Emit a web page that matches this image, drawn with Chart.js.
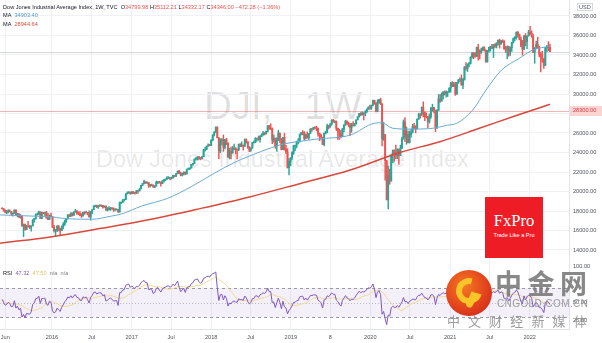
<!DOCTYPE html>
<html><head><meta charset="utf-8">
<script src="https://cdn.jsdelivr.net/npm/chart.js@4.4.1/dist/chart.umd.min.js"></script>
<style>
html,body{margin:0;padding:0;background:#fff;}
#wrap{position:relative;width:602px;height:343px;overflow:hidden;font-family:"Liberation Sans",Arial,sans-serif;}
.abs{position:absolute;white-space:nowrap;}
#cvP{position:absolute;left:0;top:0;z-index:1;}
#cvR{position:absolute;left:0;top:264px;z-index:1;}
.wm{z-index:0;color:rgba(0,0,0,0.12);line-height:1;}
.lg{z-index:2;font-size:5.6px;line-height:8.4px;color:#131722;}
.dn{color:#ef5350;}
#fx{z-index:3;left:485px;top:197px;width:58px;height:61px;background:#ee1c25;color:#fff;text-align:center;}
</style></head><body>
<div id="wrap">
  <div class="abs wm" style="left:204px;top:87px;font-size:38.5px;word-spacing:21px;">DJI, 1W</div>
  <div class="abs wm" style="left:96px;top:148px;font-size:23.4px;color:rgba(0,0,0,0.10);">Dow Jones Industrial Average Index</div>
  <canvas id="cvP" width="602" height="264"></canvas>
  <canvas id="cvR" width="602" height="79"></canvas>

  <div class="abs lg" style="left:3px;top:2.5px;">Dow Jones Industrial Average Index, 1W, TVC&nbsp;&nbsp;O<span class="dn">34799.98</span> H<span class="dn">35112.21</span> L<span class="dn">34332.17</span> C<span class="dn">34346.00</span> <span class="dn">−472.28 (−1.36%)</span></div>
  <div class="abs lg" style="left:3px;top:11px;">MA&nbsp;&nbsp;<span style="color:#4f9bd0">34903.40</span></div>
  <div class="abs lg" style="left:3px;top:19.5px;">MA&nbsp;&nbsp;<span style="color:#e04b3c">28944.64</span></div>
  <div class="abs lg" style="left:3px;top:268.5px;">RSI&nbsp;&nbsp;<span style="color:#7e57c2">47.32</span>&nbsp;&nbsp;<span style="color:#e0c060">47.50</span>&nbsp;&nbsp;<span style="color:#787b86">n/a</span>&nbsp;&nbsp;<span style="color:#787b86">n/a</span></div>
  <div class="abs lg" style="left:577px;top:2.5px;padding:0 1px;border:0.5px solid #d6d8de;color:#50535e;line-height:6.5px;">USD</div>

  <div class="abs" id="fx">
    <div style="font-family:'Liberation Serif','DejaVu Serif',serif;font-size:16.5px;line-height:16px;margin-top:16px;">FxPro</div>
    <div style="font-size:5.6px;line-height:6px;margin-top:3px;">Trade Like a Pro</div>
  </div>

  <div class="abs" style="left:446px;top:270px;width:46px;height:46px;border-radius:50%;background:radial-gradient(circle at 40% 35%,#f47a22 0%,#e2421c 55%,#c9201a 100%);z-index:3;">
    <div style="position:absolute;left:10px;top:8px;width:14px;height:14px;border-radius:50%;border:6px solid #f8c42a;border-right-color:transparent;transform:rotate(-30deg);"></div>
    <div style="position:absolute;left:22px;top:22px;width:7px;height:16px;border-radius:0 0 8px 8px;background:#f8c42a;transform:rotate(25deg);"></div>
  </div>
  <div class="abs" style="z-index:3;left:495px;top:268px;font-family:'Noto Sans CJK SC',sans-serif;font-weight:bold;font-size:27px;line-height:30px;letter-spacing:5.5px;color:rgba(115,115,115,0.85);">中金网</div>
  <div class="abs" style="z-index:3;left:497px;top:298.5px;font-family:'Liberation Sans',Arial,sans-serif;font-size:10px;line-height:10px;letter-spacing:0.4px;color:rgba(140,140,140,0.85);">CNGOLD.COM.CN</div>
  <div class="abs" style="z-index:3;left:447px;top:313px;font-family:'Noto Sans CJK SC',sans-serif;font-size:13px;line-height:15px;letter-spacing:2.6px;color:rgba(140,140,140,0.85);">中 文 财 经 新 媒 体</div>
</div>

<script>
// ---------------- DATA ----------------
// weekly closes of the 14 weeks before the first visible bar (RSI warm-up)
const warmupCloses = [18019,18140,18133,17856,17749,18128,17713,17763,18058,17826,18080,18024,18191,18272];
const firstWeek = '2015-05-18';   // Monday of the first visible weekly bar
const lastOpen = 34799.98;

const closes = [
// 2015
18232,18011,17849,17899,18016,17947,17730,17760,18086,17569,17690,17373,17477,16460,16643,16102,16433,16385,16315,16472,17084,17216,17647,17664,17910,17245,17824,17798,17848,17265,17128,17553,17425,
// 2016
16346,15988,16094,16466,16205,15974,16392,16640,17007,17213,17602,17516,17793,17577,17898,18004,17774,17741,17535,17501,17873,17807,17865,17675,17400,17949,18147,18516,18571,18432,18543,18577,18553,18395,18492,18085,18124,18262,18308,18240,18138,18146,18161,17888,18848,18868,19152,19171,19757,19843,19934,19763,
// 2017
19964,19886,19827,20094,20071,20269,20624,20822,21006,20903,20915,20597,20663,20656,20453,20548,20941,21007,20897,20805,21080,21206,21272,21384,21395,21350,21414,21638,21580,21830,22093,21858,21675,21814,21988,21798,22268,22350,22405,22774,22872,23329,23434,23539,23422,23358,23558,24232,24329,24652,24754,24719,
// 2018
25296,25803,26072,26617,25521,24191,25219,25310,24538,25336,24946,23533,24103,23933,24360,24463,24311,24263,24831,24715,24753,24635,25317,25090,24581,24271,24456,25019,25058,25451,25463,25313,25669,25790,25965,25917,26155,26744,26458,26447,25340,25444,24688,25271,25989,25413,24286,25538,24389,24101,22445,23062,
// 2019
23433,23996,24706,24737,25064,25106,25883,26031,26026,25450,25849,25502,25929,26425,26412,26559,26543,26505,25942,25764,25586,24815,25984,26090,26719,26600,26922,27332,27154,27192,26485,26287,25886,25629,26403,26797,27220,26935,26820,26573,26817,26770,26958,27347,27681,28005,27876,28051,28015,28135,28455,28645,
// 2020
28635,28824,29348,28990,28256,29103,29398,28992,25409,25864,23186,19174,21637,21053,23719,24242,23775,23724,24331,23685,24465,25383,27111,25606,25871,25016,25827,26075,26672,26470,26428,27433,27931,27930,28654,28133,27666,27657,27174,27683,28587,28606,28336,26502,28323,29480,29263,29910,30218,30046,30179,30200,30606,
// 2021
31098,30814,30997,29983,31148,31458,31494,30932,31496,32779,32628,33073,33153,33801,34200,34043,33875,34778,34382,34208,34529,34756,34480,33290,34434,34786,34870,34688,35062,34935,35209,35515,35120,35456,35369,34608,34584,34798,34326,34746,35295,35677,35820,36328,36100,35602,34899,34580,35971,35365,35951,36338,
// 2022
36232,35912,34265,34725,35089,34738,34079,34059,33615,32944,34755,34862,34818,34346];

const highs = [
18351,18233,18110,18077,18137,18130,17950,17800,18130,18140,17780,17730,17640,17510,16670,16650,16530,16930,16530,16480,17100,17230,17680,17800,17980,17920,17880,17860,17900,17960,17760,17600,17780,
17410,16530,16100,16480,16510,16230,16470,16800,17060,17230,17630,17630,17800,17800,17940,18170,18040,17920,17930,17720,17890,17930,18000,17870,18010,17950,18150,18540,18620,18600,18550,18670,18630,18580,18540,18540,18360,18450,18370,18340,18330,18260,18240,18170,18930,18930,19160,19230,19760,19970,19990,19950,
20000,19990,19900,20130,20100,20300,20640,20830,21170,21010,20990,20940,20740,20760,20680,20600,21070,21010,21050,21000,21110,21220,21300,21530,21530,21460,21480,21680,21650,21840,22100,22180,22000,21890,22020,22000,22290,22420,22420,22780,22900,23330,23490,23560,23600,23480,23600,24330,24540,24670,24880,24840,
25300,25810,26150,26620,26610,25520,25430,25440,25800,25340,25450,25010,24430,24560,24620,24860,24470,24370,24880,24920,25090,24770,25400,25400,25090,24580,24480,25050,25190,25530,25490,25690,25730,25920,26170,26050,26190,26770,26770,26950,26520,25800,25490,25540,26280,26000,25410,25540,25980,24740,24390,23380,
23470,24060,24750,24770,25170,25440,25890,26050,26240,26150,25900,26110,25950,26430,26480,26580,26660,26700,26400,26000,25890,25550,26000,26190,26910,26800,26970,27340,27400,27270,27240,26490,26390,26250,26480,26860,27310,27220,27120,27000,27000,27170,27000,27350,27690,28010,28090,28170,28070,28290,28470,28700,
28870,28870,29370,29370,29150,29410,29460,29570,28990,27100,25390,23190,22600,22290,23850,24260,24260,24760,24400,24360,24760,25580,27340,27580,26620,26230,26200,26400,26890,27000,26750,27440,28040,27990,28660,29200,28160,28050,27700,27950,28600,28950,28640,28340,28400,29930,29960,30120,30220,30320,30330,30250,30640,
31190,31270,31190,31200,31200,31480,31650,31960,31620,32800,33230,33080,33260,33810,34260,34260,34260,34810,35090,34530,34710,34850,34850,34540,34470,34790,34900,35090,35070,35170,35260,35520,35630,35510,35570,35470,34890,34950,34920,34840,35300,35750,35890,36370,36440,36150,35860,35510,35980,36200,35970,36530,
36950,36480,36110,34750,35420,35820,34900,34250,34380,33620,34770,35000,35370,35112];

const lows = [
18184,17990,17795,17734,17800,17900,17576,17465,17760,17560,17400,17330,17250,16450,15370,16000,16100,16360,16200,15940,16470,16860,17150,17570,17650,17240,17210,17700,17470,17260,17100,17120,17420,
16310,15840,15450,15880,15960,15500,15980,16170,16530,16820,17170,17410,17430,17480,17550,17880,17650,17630,17520,17330,17480,17650,17800,17600,17360,17060,17710,18150,18440,18340,18270,18470,18450,18280,18390,18080,17990,18100,18050,18150,17960,18020,18100,17880,17890,18740,18900,19000,19170,19740,19830,19720,
19780,19780,19730,19800,19830,20030,20270,20620,20790,20820,20800,20410,20460,20570,20440,20380,20550,20800,20860,20550,20810,20950,21110,21250,21310,21190,21280,21360,21500,21510,21810,21840,21600,21600,21710,21710,21800,22260,22250,22410,22700,22860,23250,23240,23300,23240,23350,23560,24130,24300,24650,24700,
24700,25200,25700,26050,25490,23360,23980,24790,24120,24360,24800,23510,23340,23340,23930,24260,23850,23340,24200,24610,24600,24250,24640,24960,24410,24080,24110,24450,24950,25010,25170,25250,25070,25600,25790,25800,25880,26100,26370,26340,24900,25070,24440,24120,25200,25000,24270,24290,24240,23880,22400,21710,
22640,23300,23800,24190,24470,24880,25070,25800,25810,25250,25400,25480,25330,25970,26170,26340,26400,26250,25670,25220,25330,24800,24680,25900,26010,26420,26600,26800,27090,27030,26250,25340,25340,25530,25630,26100,26800,26910,26660,25740,26080,26700,26700,26900,27350,27620,27770,27840,27330,27780,28130,28420,
28420,28410,28810,28950,28170,28170,29030,28910,24680,25230,21150,19120,18210,20740,21290,22940,23090,23360,23360,22790,23700,24400,25390,25120,24840,24980,24970,25570,26000,26410,26010,26420,27400,27510,27800,27660,27260,27560,26540,27000,27500,28220,28050,26140,26500,28330,29140,29260,29460,29880,29680,29750,30150,
30190,30750,30740,29860,29980,31090,31300,30900,30550,31420,32440,32300,32770,33070,33680,33600,33760,33820,33470,33600,34200,34450,34400,33270,33270,34300,34400,34640,33740,34750,34720,35000,34710,35120,35260,34600,34250,33610,33880,33950,34380,35230,35450,35620,35830,35550,34860,33990,34590,34940,34660,35940,
36090,35820,34250,33150,34620,34700,33800,32270,33250,32630,32900,34340,34450,34332];

// moving averages (date, value)
const ma50Dates  = ['2015-05-08','2015-10-01','2016-01-01','2016-02-15','2016-07-01','2016-10-01','2016-11-15','2017-02-15','2017-06-15','2017-10-01','2018-01-15','2018-04-15','2018-08-15','2018-11-25','2019-02-01','2019-05-01','2019-10-01','2020-01-20','2020-02-24','2020-04-10','2020-07-01','2020-10-01','2020-12-20','2021-02-01','2021-04-15','2021-06-15','2021-08-25','2021-11-15','2022-01-15','2022-04-04'];
const ma50Values = [17600,17480,17400,17260,17150,17480,17690,18500,19300,20490,21870,22950,24080,24850,25110,25380,25790,27000,27050,26500,26400,26450,26800,27000,28360,30410,32460,33660,34510,34903];
const ma200Dates  = ['2015-05-08','2016-01-01','2016-08-15','2017-04-01','2017-11-15','2018-07-01','2019-02-15','2019-10-01','2020-05-15','2020-11-15','2021-05-15','2021-10-25','2022-04-04'];
const ma200Values = [14700,15370,16220,17150,18270,19470,20830,22200,24000,25110,26480,27740,28944];

const alertLevel = 28300;
const priceTicks = [14000,16000,18000,20000,22000,24000,26000,28000,30000,32000,34000,36000,38000];
const rsiTicks = [25,50,100];
const rsiBands = [70,50,30];
const timeTickDates  = ['2015-06-01','2016-01-01','2016-07-01','2017-01-01','2017-07-01','2018-01-01','2018-07-01','2019-01-01','2019-07-01','2020-01-01','2020-07-01','2021-01-01','2021-07-01','2022-01-01'];
const timeTickLabels = ['Jun','2016','Jul','2017','Jul','2018','Jul','2019','8','2020','Jul','2021','Jul','2022'];

// ---------------- BUILD ----------------
const UP='#26a69a', DOWN='#ef5350', GRID='#f0f1f4', BORDER='#e0e3eb', TXT='#50535e';
Chart.defaults.font.family='"Liberation Sans", Arial, sans-serif';
Chart.defaults.font.size=5.6;
const DAY=86400000, WEEK=7*DAY;
const t0=Date.parse(firstWeek);
const times=closes.map((_,i)=>t0+i*WEEK);
const opens=closes.map((c,i)=>i===0?warmupCloses[warmupCloses.length-1]:closes[i-1]);
opens[opens.length-1]=lastOpen;
const colors=closes.map((c,i)=>c>=opens[i]?UP:DOWN);
const XMIN=Date.UTC(2015,4,8), XMAX=Date.UTC(2022,5,30,12);
const timeTicks=timeTickDates.map(d=>Date.parse(d));

function wilderRsi(src,n){
  const out=new Array(src.length).fill(null); let g=0,l=0;
  for(let i=1;i<src.length;i++){
    const d=src[i]-src[i-1], up=Math.max(d,0), dn=Math.max(-d,0);
    if(i<=n){g+=up/n;l+=dn/n;if(i<n)continue;}
    else{g=(g*(n-1)+up)/n;l=(l*(n-1)+dn)/n;}
    out[i]=l===0?100:100-100/(1+g/l);
  }
  return out;
}
const rsiVals=wilderRsi(warmupCloses.concat(closes),14).slice(warmupCloses.length);
const rsiMa=rsiVals.map((_,i)=>{const w=rsiVals.slice(Math.max(0,i-13),i+1);return w.reduce((a,b)=>a+b,0)/w.length;});

const PMAX=38000+16*(24000/234), PMIN=PMAX-264*(24000/234);
const RMAX=70+24/0.725, RMIN=30-12/0.725;

const xBase={type:'linear',min:XMIN,max:XMAX,offset:false,
  grid:{color:GRID,drawTicks:false,offset:false},
  afterBuildTicks:s=>{s.ticks=timeTicks.map(v=>({value:v}));}};

const levelPlugin={id:'levels',
  beforeDatasetsDraw(chart){
    const {ctx,chartArea:a,scales:{y}}=chart; ctx.save(); ctx.lineWidth=1;
    [[alertLevel,'rgba(236,90,90,0.45)'],[closes[closes.length-1],'rgba(120,123,134,0.3)']].forEach(([v,c])=>{
      const py=Math.round(y.getPixelForValue(v))+0.5;
      ctx.strokeStyle=c; ctx.beginPath(); ctx.moveTo(a.left,py); ctx.lineTo(a.right,py); ctx.stroke();
    });
    ctx.restore();
  },
  afterDraw(chart){
    const {ctx,chartArea:a,scales:{y}}=chart; const py=y.getPixelForValue(alertLevel);
    ctx.save(); ctx.fillStyle='#fbd3d3'; ctx.fillRect(a.right+1,Math.round(py)-5,chart.width-a.right-1,10);
    ctx.fillStyle='#e53935'; ctx.font='5.6px "Liberation Sans", Arial'; ctx.textBaseline='middle'; ctx.textAlign='left';
    ctx.fillText(alertLevel.toFixed(2),a.right+4,py); ctx.restore();
  }};

new Chart(document.getElementById('cvP'),{
  type:'bar',
  data:{datasets:[
    {type:'line',data:ma200Dates.map((d,i)=>({x:Date.parse(d),y:ma200Values[i]})),borderColor:'#d9483b',borderWidth:1.5,pointRadius:0,cubicInterpolationMode:'monotone',order:0},
    {type:'line',data:ma50Dates.map((d,i)=>({x:Date.parse(d),y:ma50Values[i]})),borderColor:'#6aaad2',borderWidth:1,pointRadius:0,cubicInterpolationMode:'monotone',order:0},
    {type:'bar',data:times.map((t,i)=>({x:t,y:[lows[i],highs[i]]})),backgroundColor:colors,barThickness:0.8,grouped:false,order:2},
    {type:'bar',data:times.map((t,i)=>({x:t,y:[opens[i],closes[i]]})),backgroundColor:colors,barThickness:1.25,grouped:false,order:1}
  ]},
  options:{responsive:false,animation:false,events:[],layout:{padding:0},
    plugins:{legend:{display:false},tooltip:{enabled:false}},
    scales:{
      x:Object.assign({},xBase,{border:{display:true,color:BORDER},ticks:{display:false},
        afterFit:s=>{s.height=0;s.paddingLeft=0;s.paddingRight=0;}}),
      y:{type:'linear',position:'right',min:PMIN,max:PMAX,
        grid:{color:GRID,drawTicks:false},border:{display:true,color:BORDER},
        ticks:{padding:4,color:TXT,includeBounds:false,callback:v=>Number(v).toFixed(2)},
        afterBuildTicks:s=>{s.ticks=priceTicks.map(v=>({value:v}));},
        afterFit:s=>{s.width=33;s.paddingTop=0;s.paddingBottom=0;}}
    }},
  plugins:[levelPlugin]
});

const bandPlugin={id:'bands',
  beforeDatasetsDraw(chart){
    const {ctx,chartArea:a,scales:{y}}=chart; ctx.save();
    const yt=y.getPixelForValue(rsiBands[0]), yb=y.getPixelForValue(rsiBands[2]);
    ctx.fillStyle='rgba(126,87,194,0.09)'; ctx.fillRect(a.left,yt,a.right-a.left,yb-yt);
    ctx.lineWidth=1;
    rsiBands.forEach((v,k)=>{
      const py=Math.round(y.getPixelForValue(v))+0.5;
      ctx.strokeStyle=k===1?'rgba(120,123,134,0.45)':'rgba(120,123,134,0.75)';
      ctx.setLineDash(k===1?[1,2]:[3,3]);
      ctx.beginPath(); ctx.moveTo(a.left,py); ctx.lineTo(a.right,py); ctx.stroke();
    });
    ctx.restore();
  }};

new Chart(document.getElementById('cvR'),{
  type:'line',
  data:{datasets:[
    {data:times.map((t,i)=>({x:t,y:rsiMa[i]})),borderColor:'#f1d88e',borderWidth:1,pointRadius:0,order:1},
    {data:times.map((t,i)=>({x:t,y:rsiVals[i]})),borderColor:'#7e57c2',borderWidth:1,pointRadius:0,order:0}
  ]},
  options:{responsive:false,animation:false,events:[],layout:{padding:0},
    plugins:{legend:{display:false},tooltip:{enabled:false}},
    scales:{
      x:Object.assign({},xBase,{border:{display:true,color:BORDER},
        ticks:{color:TXT,padding:5,maxRotation:0,autoSkip:false,callback:(v,i)=>timeTickLabels[i]},
        afterFit:s=>{s.height=14;s.paddingLeft=0;s.paddingRight=0;}}),
      y:{type:'linear',position:'right',min:RMIN,max:RMAX,
        grid:{display:false,drawTicks:false},border:{display:true,color:BORDER},
        ticks:{padding:4,color:TXT,includeBounds:false,callback:v=>Number(v).toFixed(2)},
        afterBuildTicks:s=>{s.ticks=rsiTicks.map(v=>({value:v}));},
        afterFit:s=>{s.width=33;s.paddingTop=0;s.paddingBottom=0;}}
    }},
  plugins:[bandPlugin]
});
</script>
</body></html>
